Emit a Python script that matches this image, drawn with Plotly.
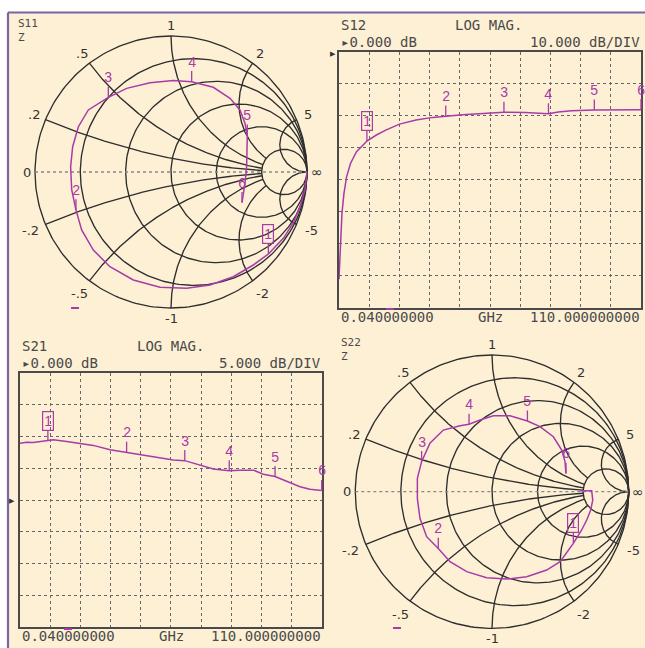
import numpy as np
import plotly.graph_objects as go

W, H = 645, 648

# ---------------- data ----------------
marker_labels = ["1", "2", "3", "4", "5", "6"]
marker_freq = [10.2, 38.9, 60.1, 76.3, 93.0, 110.0]  # GHz

# S11 reflection coefficient (real, imag) from low to high frequency
s11_re = [1.0, 0.985, 0.949, 0.900, 0.826, 0.716, 0.605, 0.458, 0.287, 0.115, -0.081,
          -0.277, -0.449, -0.571, -0.657, -0.699, -0.730, -0.738, -0.723, -0.681, -0.608,
          -0.461, -0.326, -0.154, 0.017, 0.152, 0.311, 0.434, 0.507, 0.544, 0.561, 0.561,
          0.556, 0.544, 0.522]
s11_im = [0.0, -0.132, -0.255, -0.373, -0.488, -0.603, -0.684, -0.770, -0.831, -0.855, -0.848,
          -0.794, -0.696, -0.574, -0.426, -0.279, -0.132, 0.039, 0.186, 0.333, 0.456,
          0.549, 0.615, 0.657, 0.672, 0.664, 0.623, 0.542, 0.456, 0.358, 0.272, 0.162,
          0.039, -0.083, -0.225]
s11_mk_re = [0.716, -0.699, -0.461, 0.152, 0.561, 0.522]
s11_mk_im = [-0.603, -0.279, 0.549, 0.664, 0.272, -0.225]

# S22 reflection coefficient (real, imag)
s22_re = [0.644, 0.729, 0.737, 0.722, 0.693, 0.656, 0.595, 0.559, 0.498, 0.400, 0.254, 0.107,
          -0.039, -0.185, -0.307, -0.393, -0.478, -0.527, -0.546, -0.546, -0.515, -0.454,
          -0.356, -0.234, -0.168, -0.088, 0.010, 0.132, 0.259, 0.351, 0.449, 0.510, 0.534, 0.541]
s22_im = [0.007, 0.007, -0.061, -0.134, -0.207, -0.280, -0.378, -0.427, -0.512, -0.573, -0.622,
          -0.639, -0.629, -0.585, -0.512, -0.415, -0.329, -0.195, -0.049, 0.098, 0.220, 0.354,
          0.451, 0.483, 0.493, 0.524, 0.556, 0.556, 0.517, 0.476, 0.402, 0.305, 0.220, 0.134]
s22_mk_re = [0.595, -0.393, -0.515, -0.168, 0.259, 0.541]
s22_mk_im = [-0.378, -0.415, 0.220, 0.493, 0.517, 0.134]

# S12 log magnitude (dB)
s12_freq = [0.04, 0.40, 0.76, 1.12, 1.85, 2.81, 4.26, 6.42, 8.83, 10.2, 13.65, 17.26, 22.08,
            28.10, 34.12, 38.9, 44.96, 50.98, 60.1, 67.84, 72.66, 76.3, 79.89, 84.70, 93.0,
            101.6, 110.0]
s12_db = [-71.0, -64.9, -56.6, -50.4, -44.2, -39.0, -34.8, -31.2, -29.1, -27.9, -26.0, -24.4,
          -22.6, -21.3, -20.5, -20.1, -19.7, -19.4, -18.9, -19.0, -19.2, -19.4, -18.8, -18.4,
          -18.2, -18.2, -18.1]
s12_mk_db = [-27.9, -20.1, -18.9, -19.4, -18.2, -18.1]

# S21 log magnitude (dB)
s21_freq = [0.04, 2.47, 4.9, 7.33, 10.2, 12.19, 17.05, 21.91, 26.77, 32.85, 38.9, 43.78,
            49.86, 55.93, 60.1, 65.65, 70.51, 76.3, 80.23, 85.09, 88.74, 93.0, 97.24, 102.1,
            105.7, 110.0]
s21_db = [8.95, 9.1, 9.05, 9.2, 9.3, 9.5, 9.2, 8.95, 8.6, 7.9, 7.5, 7.1, 6.7, 6.3, 6.2, 5.5,
          4.9, 4.6, 4.7, 4.7, 4.05, 3.7, 2.9, 2.1, 1.7, 1.5]
s21_mk_db = [9.3, 7.5, 6.2, 4.6, 3.7, 1.5]

smith_r = [0.2, 0.5, 1.0, 2.0, 5.0]
smith_x = [0.2, 0.5, 1.0, 2.0, 5.0]
smith_x_labels = [".2", ".5", "1", "2", "5"]

# ---------------- styling ----------------
BG = "#FDF0D5"
PURPLE = "#A93AA8"
GRID = "#2e2e2e"
TXT = "#4a4a4a"
FRAME = "#7A64A6"

fig = go.Figure()


def gamma(z):
    return (z - 1) / (z + 1)


def smith_grid():
    xs, ys = [], []
    th = np.linspace(0, 2 * np.pi, 241)
    for r in [0.0] + smith_r:
        c = r / (1 + r)
        rad = 1 / (1 + r)
        xs += list(c + rad * np.cos(th)) + [None]
        ys += list(rad * np.sin(th)) + [None]
    t = np.linspace(0, 1, 400)
    for xv in smith_x:
        rmax = 5.0 if xv < 5 else 1e6
        tmax = rmax / (1 + rmax)
        tt = t * tmax
        rr = tt / (1 - tt)
        for s in (1, -1):
            g = gamma(rr + 1j * s * xv)
            xs += list(g.real) + [None]
            ys += list(g.imag) + [None]
    return xs, ys


def px_x(a, b):
    return [max(0, a / W), min(1, b / W)]


def px_y(top, bottom):
    return [max(0, 1 - bottom / H), min(1, 1 - top / H)]


def paper_text(x, y, t, anchor, font, yanchor="middle"):
    fig.add_annotation(x=x / W, y=1 - y / H, xref="paper", yref="paper", text=t,
                       xanchor=anchor, yanchor=yanchor, align="left", showarrow=False, font=font)


def add_smith(idx, cx, cy, R, xr, yr, re, im, mre, mim):
    xa = "x" if idx == 1 else f"x{idx}"
    ya = "y" if idx == 1 else f"y{idx}"
    gx, gy = smith_grid()
    fig.add_trace(go.Scatter(x=gx, y=gy, mode="lines", line=dict(color=GRID, width=1.35),
                             xaxis=xa, yaxis=ya, hoverinfo="skip", showlegend=False))
    fig.add_trace(go.Scatter(x=[-1, 1], y=[0, 0], mode="lines",
                             line=dict(color="#888", width=1.3, dash="dot"),
                             xaxis=xa, yaxis=ya, hoverinfo="skip", showlegend=False))
    fig.add_trace(go.Scatter(x=re, y=im, mode="lines", line=dict(color=PURPLE, width=1.5),
                             xaxis=xa, yaxis=ya, hoverinfo="skip", showlegend=False))
    lay = "xaxis" if idx == 1 else f"xaxis{idx}"
    lay_y = "yaxis" if idx == 1 else f"yaxis{idx}"
    fig.layout[lay] = dict(domain=px_x(cx + xr[0] * R, cx + xr[1] * R), range=xr,
                           visible=False, fixedrange=True, anchor=ya)
    fig.layout[lay_y] = dict(domain=px_y(cy - yr[1] * R, cy - yr[0] * R), range=yr,
                             visible=False, fixedrange=True, anchor=xa)
    lf = dict(family="DejaVu Sans", size=13, color="#333")
    for xv, lab in zip(smith_x, smith_x_labels):
        for s in (1, -1):
            g = gamma(1j * s * xv)
            if xv == 1:
                k = 1.075
            else:
                k = 1.09 if s > 0 else 1.12
            text = lab if s > 0 else "-" + lab
            fig.add_annotation(x=k * g.real, y=k * g.imag, xref=xa, yref=ya, text=text,
                               showarrow=False, font=lf, xanchor="center", yanchor="middle")
    fig.add_annotation(x=-1.06, y=0, xref=xa, yref=ya, text="0", showarrow=False, font=lf,
                       xanchor="center", yanchor="middle")
    fig.add_annotation(x=1.07, y=0, xref=xa, yref=ya, text="∞", showarrow=False,
                       xanchor="center", yanchor="middle",
                       font=dict(family="DejaVu Sans", size=14, color="#333"))
    for i, lab in enumerate(marker_labels):
        fig.add_annotation(x=mre[i], y=mim[i], xref=xa, yref=ya, text=lab, showarrow=True,
                           arrowhead=0, arrowwidth=1.3, arrowcolor=PURPLE, ax=0, ay=-20,
                           standoff=0, font=dict(family="Liberation Sans", size=14, color=PURPLE),
                           bordercolor=PURPLE if i == 0 else "rgba(0,0,0,0)",
                           borderwidth=1.2, borderpad=1)


def add_logmag(idx, box, freq, db, mdb, yr, dtick, title, ref, scale):
    xa, ya = f"x{idx}", f"y{idx}"
    fig.add_trace(go.Scatter(x=freq, y=db, mode="lines", line=dict(color=PURPLE, width=1.5),
                             xaxis=xa, yaxis=ya, hoverinfo="skip", showlegend=False))
    x0, x1, top, bottom = box
    common = dict(showgrid=True, griddash="dot", gridcolor="#666", gridwidth=1,
                  showline=True, mirror=True, linecolor="#4a4a4a", linewidth=1.5,
                  ticks="", showticklabels=False, zeroline=False, fixedrange=True)
    fig.layout[f"xaxis{idx}"] = dict(domain=px_x(x0, x1), range=[0.04, 110], tick0=0.04,
                                     dtick=(110 - 0.04) / 10, anchor=ya, **common)
    fig.layout[f"yaxis{idx}"] = dict(domain=px_y(top, bottom), range=yr, tick0=0, dtick=dtick,
                                     anchor=xa, **common)
    f = dict(family="DejaVu Sans Mono", size=14, color=TXT)
    paper_text(x0, top - 27, title, "left", f)
    paper_text(x0 + 150, top - 27, "LOG MAG.", "center", f)
    paper_text(x0, top - 10, "▸" + ref, "left", f)
    paper_text(x1 + 1, top - 10, scale, "right", f)
    paper_text(x0, bottom + 9, "0.040000000", "left", f)
    paper_text(x0 + 151, bottom + 9, "GHz", "center", f)
    paper_text(x1 + 1, bottom + 9, "110.000000000", "right", f)
    for i, lab in enumerate(marker_labels):
        fig.add_annotation(x=marker_freq[i], y=mdb[i], xref=xa, yref=ya, text=lab, showarrow=True,
                           arrowhead=0, arrowwidth=1.3, arrowcolor=PURPLE, ax=0, ay=-20,
                           standoff=0, font=dict(family="Liberation Sans", size=14, color=PURPLE),
                           bordercolor=PURPLE if i == 0 else "rgba(0,0,0,0)",
                           borderwidth=1.2, borderpad=1)


add_smith(1, 171, 172, 136, [-1.2, 1.2], [-1.2, 1.2], s11_re, s11_im, s11_mk_re, s11_mk_im)
add_logmag(2, (339, 641, 51.7, 308), s12_freq, s12_db, s12_mk_db, [-80, 0], 10, "S12",
           "0.000 dB", "10.000 dB/DIV")
add_logmag(3, (20, 321.7, 373, 627), s21_freq, s21_db, s21_mk_db, [-20, 20], 5, "S21",
           "0.000 dB", "5.000 dB/DIV")
add_smith(4, 492, 491.7, 136.7, [-1.2, 1.1], [-1.14, 1.2], s22_re, s22_im, s22_mk_re, s22_mk_im)

hf = dict(family="DejaVu Sans Mono", size=11, color=TXT)
for (x, y, t) in [(16, 15, "S11"), (339, 334, "S22")]:
    paper_text(x, y, t + "<br>Z", "left", hf, yanchor="top")

shapes = [
    dict(type="rect", xref="paper", yref="paper", x0=8 / W, x1=1, y0=0, y1=1 - 12.5 / H,
         fillcolor=BG, line=dict(width=0), layer="below"),
    dict(type="line", xref="paper", yref="paper", x0=8 / W, x1=1, y0=1 - 12.5 / H, y1=1 - 12.5 / H,
         line=dict(color=FRAME, width=2.2), layer="below"),
    dict(type="line", xref="paper", yref="paper", x0=8 / W, x1=8 / W, y0=0, y1=1 - 12.5 / H,
         line=dict(color=FRAME, width=2.2), layer="below"),
]
for (x, y) in [(75, 308), (390, 309), (68, 629), (397, 628)]:
    shapes.append(dict(type="line", xref="paper", yref="paper", x0=(x - 4) / W, x1=(x + 4) / W,
                       y0=1 - y / H, y1=1 - y / H, line=dict(color=PURPLE, width=2)))
fig.update_layout(shapes=shapes)
for (x, y) in [(333, 53), (12, 500)]:
    paper_text(x, y, "▶", "center", dict(size=7, color="#333"))

fig.update_layout(width=W, height=H, margin=dict(l=0, r=0, t=0, b=0), autosize=False,
                  paper_bgcolor="white", plot_bgcolor="rgba(0,0,0,0)", showlegend=False)
fig.write_html("out.html", config={"displayModeBar": False},
               post_script="document.body.style.margin='0';")
